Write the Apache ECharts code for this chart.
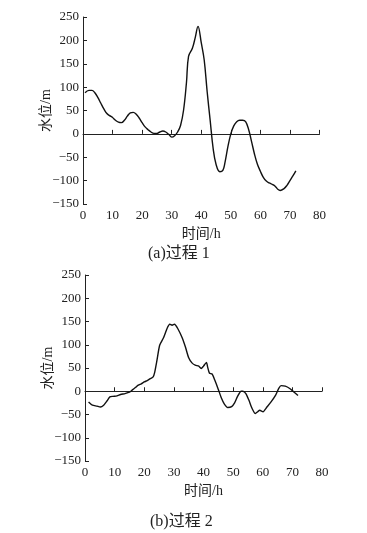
<!DOCTYPE html>
<html><head><meta charset="utf-8">
<script src="https://cdn.jsdelivr.net/npm/echarts@6/dist/echarts.min.js"></script>
<style>html,body{margin:0;padding:0;background:#fff}#c{width:367px;height:533px}</style>
</head><body><div id="c"></div>
<script>
// Process 1
const timeA = [0.7, 2, 3, 4, 5, 6, 7, 8, 9, 10, 11, 12, 13, 14, 15, 16, 17, 18, 19, 20, 21, 22, 23, 24, 25, 26, 27, 28, 29, 30, 31, 32, 33, 34, 35, 35.7, 37, 38, 38.9, 40, 41, 42, 43, 44, 45, 46.3, 47.3, 48, 49, 50, 51, 52, 53, 54, 55, 56, 57, 58, 59, 60, 61, 62, 63, 64, 65, 66, 66.7, 68, 69, 70, 71, 72];
const levelA = [88, 93, 93, 88, 78, 66, 54, 44, 39, 35, 29, 25, 24, 29, 38, 45, 46, 42, 34, 24, 15, 9, 4, 1, 1, 4, 6, 4, -1, -7, -4, 4, 18, 50, 110, 166, 183, 207, 230, 195, 158, 90, 30, -30, -65, -81, -78, -62, -28, 0, 17, 26, 29, 29, 26, 10, -16, -43, -65, -80, -93, -101, -105, -108, -112, -119, -121, -117, -110, -100, -90, -79];
// Process 2
const timeB = [1.2, 2.5, 4, 5.2, 6.3, 7.4, 8.4, 9.5, 10.8, 12, 13.5, 15, 16, 17, 18, 19, 20, 21, 22, 23, 23.5, 24.3, 25.2, 26.5, 27.7, 28.6, 29.4, 30.2, 31.3, 32.8, 33.9, 35, 36.1, 37.2, 38.4, 39.2, 40, 41, 41.4, 42, 42.9, 43.8, 45, 46, 47, 48.2, 49.5, 50.5, 51.5, 52.7, 53.3, 54.3, 55.3, 56.4, 57.5, 58.3, 59, 60.1, 61.4, 62.8, 64.3, 65.4, 66.2, 67.6, 69.1, 70.4, 71.9];
const levelB = [-23, -30, -32, -34, -30, -21, -12, -11, -10, -7, -5, -2, 3, 8, 13, 16, 20, 23, 27, 31, 40, 67, 99, 115, 135, 144, 142, 144, 135, 115, 95, 72, 61, 56, 54, 49, 54, 62, 52, 39, 37, 24, 4, -14, -27, -35, -33, -25, -11, 0, 0, -5, -19, -37, -48, -44, -41, -44, -34, -23, -9, 6, 12, 11, 6, -1, -9];
const yTicks = {min: -150, max: 250, step: 50};
const xTicks = {min: 0, max: 80, step: 10};
const xName = '时间/h', yName = '水位/m';
const captions = ['(a)过程 1', '(b)过程 2'];

const serif = '"Liberation Serif","DejaVu Serif",serif';
const cjk = '"Liberation Serif","Noto Sans CJK SC",serif';
const fmt = v => String(v).replace('-', '\u2212');
function xAx(i){return {gridIndex:i,type:'value',min:xTicks.min,max:xTicks.max,interval:xTicks.step,
  name:xName,nameLocation:'middle',nameGap:23,nameMoveOverlap:false,nameTextStyle:{fontFamily:cjk,fontSize:14,color:'#222'},
  axisLine:{lineStyle:{color:'#222',width:1}},axisTick:{inside:true,length:4,lineStyle:{color:'#222'}},
  axisLabel:{fontFamily:serif,fontSize:13,color:'#222',margin:5,formatter:fmt},splitLine:{show:false}};}
function yAx(i){return {gridIndex:i,type:'value',min:yTicks.min,max:yTicks.max,interval:yTicks.step,
  name:yName,nameLocation:'middle',nameGap:30,nameRotate:90,nameMoveOverlap:false,nameTextStyle:{fontFamily:cjk,fontSize:14,color:'#222'},
  axisLine:{show:true,lineStyle:{color:'#222',width:1}},axisTick:{show:true,inside:true,length:4,lineStyle:{color:'#222'}},
  axisLabel:{fontFamily:serif,fontSize:13,color:'#222',margin:4,formatter:fmt},splitLine:{show:false}};}
const chart = echarts.init(document.getElementById('c'));
chart.setOption({
  backgroundColor:'#fff',animation:false,
  grid:[{left:83,width:236.5,top:17,height:187},{left:85,width:237,top:275,height:186}],
  xAxis:[xAx(0),xAx(1)],yAxis:[yAx(0),yAx(1)],
  graphic:[
    {type:'text',left:148,top:246,style:{text:captions[0],font:'16px '+cjk,fill:'#222'}},
    {type:'text',left:150,top:514,style:{text:captions[1],font:'16px '+cjk,fill:'#222'}}
  ],
  series:[
    {type:'line',xAxisIndex:0,yAxisIndex:0,data:timeA.map((t,i)=>[t,levelA[i]]),smooth:0.4,showSymbol:false,lineStyle:{color:'#111',width:1.4}},
    {type:'line',xAxisIndex:1,yAxisIndex:1,data:timeB.map((t,i)=>[t,levelB[i]]),smooth:0.2,showSymbol:false,lineStyle:{color:'#111',width:1.4}}
  ]
});
</script></body></html>
